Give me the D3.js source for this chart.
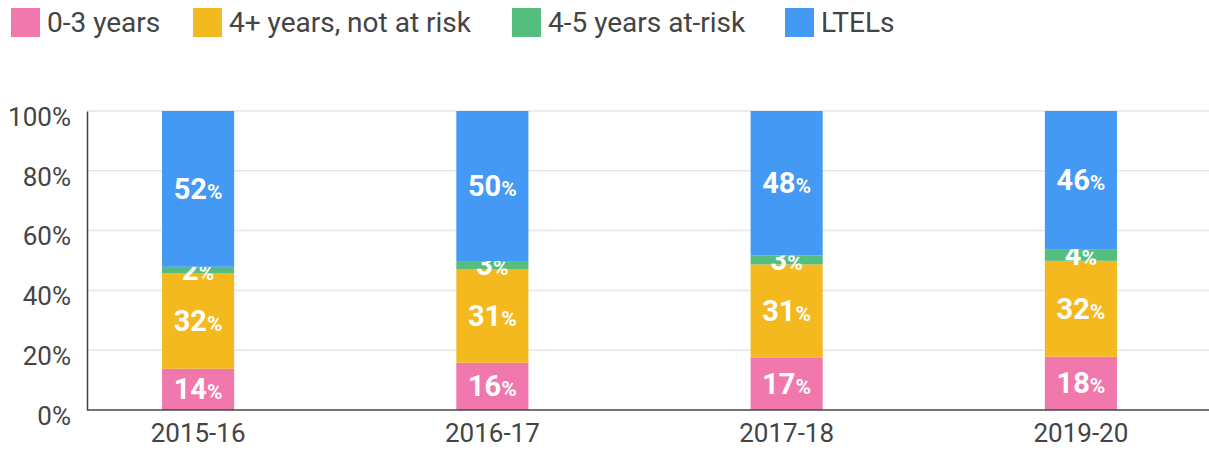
<!DOCTYPE html>
<html>
<head>
<meta charset="utf-8">
<script src="https://cdn.jsdelivr.net/npm/d3@7"></script>
<style>
  body { margin: 0; background: #fff; }
  svg { font-family: Roboto, "Noto Sans", sans-serif; }
</style>
</head>
<body>
<script>
// data (percent of each year)
var years = ["2015-16", "2016-17", "2017-18", "2019-20"];
var seriesNames = ["0-3 years", "4+ years, not at risk", "4-5 years at-risk", "LTELs"];
var seriesColors = ["#f178ac", "#f5b920", "#55be7f", "#4499f5"];
var zeroToThree = [13.8, 15.8, 17.4, 17.8];
var notAtRisk = [32.0, 31.2, 31.2, 32.1];
var atRisk = [2.1, 2.8, 3.0, 3.9];
var ltels = [52.1, 50.2, 48.2, 46.2];
var yTicks = [0, 0.2, 0.4, 0.6, 0.8, 1];

var w = 1209, h = 450;
var margin = {top: 111, right: 0, bottom: 40, left: 87};

var svg = d3.select("body").append("svg")
  .attr("width", w)
  .attr("height", h);

// build rows for the stack
var rows = years.map(function(y, i) {
  return {year: y, s0: zeroToThree[i], s1: notAtRisk[i], s2: atRisk[i], s3: ltels[i]};
});
var keys = ["s0", "s1", "s2", "s3"];
var stacked = d3.stack().keys(keys).offset(d3.stackOffsetExpand)(rows);

var x = d3.scaleBand()
  .domain(years)
  .range([margin.left, 1192])
  .paddingInner(0.755)
  .paddingOuter(0.255);

var y = d3.scaleLinear()
  .domain([0, 1])
  .range([h - margin.bottom, margin.top]);

// gridlines
svg.append("g")
  .selectAll("line")
  .data(yTicks.slice(1))
  .enter()
  .append("line")
  .attr("x1", margin.left)
  .attr("x2", w)
  .attr("y1", function(d) { return y(d); })
  .attr("y2", function(d) { return y(d); })
  .attr("stroke", "#e6e6e6")
  .attr("stroke-width", 1.5);

// bars
var layer = svg.selectAll(".layer")
  .data(stacked)
  .enter()
  .append("g")
  .attr("class", "layer")
  .attr("fill", function(d, i) { return seriesColors[i]; });

layer.selectAll("rect")
  .data(function(d) { return d; })
  .enter()
  .append("rect")
  .attr("x", function(d) { return x(d.data.year); })
  .attr("y", function(d) { return y(d[1]); })
  .attr("width", x.bandwidth())
  .attr("height", function(d) { return y(d[0]) - y(d[1]); });

// labels
layer.selectAll("text")
  .data(function(d) { return d.map(function(p) { p.key = d.key; return p; }); })
  .enter()
  .append("text")
  .attr("x", function(d) { return x(d.data.year) + x.bandwidth() / 2; })
  .attr("y", function(d) { return (y(d[0]) + y(d[1])) / 2 + 10; })
  .attr("text-anchor", "middle")
  .attr("fill", "#fff")
  .attr("font-weight", "bold")
  .each(function(d) {
    var t = d3.select(this);
    t.append("tspan").attr("font-size", "29px").text(Math.round(d.data[d.key]));
    t.append("tspan").attr("font-size", "21px").text("%");
  });

// y axis
var yAxis = svg.append("g")
  .attr("transform", "translate(" + margin.left + ",0)")
  .call(d3.axisLeft(y).tickValues(yTicks).tickFormat(d3.format(".0%")).tickSize(0).tickPadding(16));
yAxis.select(".domain").attr("stroke", "#444").attr("stroke-width", 1.5);
yAxis.selectAll("text").attr("font-size", "26px").attr("fill", "#444").attr("font-family", "Roboto")
  .attr("dy", "0.55em");

// x axis
var xAxis = svg.append("g")
  .attr("transform", "translate(0," + (h - margin.bottom) + ")")
  .call(d3.axisBottom(x).tickSize(0).tickPadding(14));
xAxis.select(".domain").attr("d", "M" + margin.left + ",0H" + w).attr("stroke", "#444").attr("stroke-width", 1.5);
xAxis.selectAll("text").attr("font-size", "26px").attr("fill", "#444").attr("font-family", "Roboto");

// legend
var legendX = [11, 193, 512, 785];
var legend = svg.append("g")
  .selectAll("g")
  .data(seriesNames)
  .enter()
  .append("g")
  .attr("transform", function(d, i) { return "translate(" + legendX[i] + ",8)"; });

legend.append("rect")
  .attr("width", 29)
  .attr("height", 29)
  .attr("fill", function(d, i) { return seriesColors[i]; });

legend.append("text")
  .attr("x", 36)
  .attr("y", 24)
  .attr("font-size", "28px")
  .attr("fill", "#444")
  .text(function(d) { return d; });
</script>
</body>
</html>
